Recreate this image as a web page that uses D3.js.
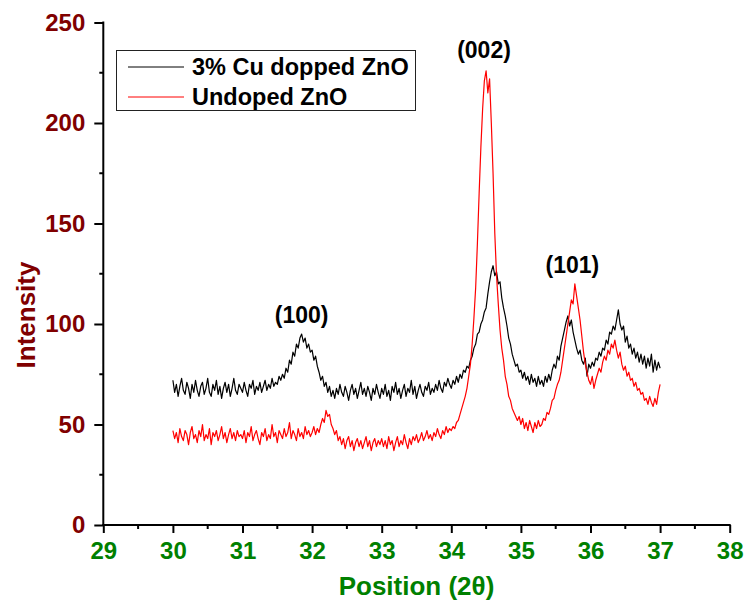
<!DOCTYPE html>
<html>
<head>
<meta charset="utf-8">
<script src="https://cdn.jsdelivr.net/npm/d3@7"></script>
<style>
  html, body { margin: 0; padding: 0; background: #fff; }
  svg text { font-family: "Liberation Sans", Arial, Helvetica, sans-serif; font-weight: bold; }
</style>
</head>
<body>
<svg id="chart" width="745" height="602"></svg>
<script>
// XRD scan: 2θ from 30° to 37° in 0.025° steps
const scanStart = 30;
const scanStep = 0.025;

// 3% Cu doped ZnO intensities
const cuDoped = [
  72, 66, 70, 64, 69, 73, 67, 65, 71, 68, 63, 70, 66, 72, 67, 64, 69, 71, 65, 68,
  73, 66, 64, 70, 67, 72, 65, 69, 63, 68, 71, 66, 70, 64, 68, 73, 67, 65, 70, 68,
  66, 71, 67, 64, 70, 68, 72, 65, 69, 67, 71, 66, 69, 72, 67, 70, 68, 73, 69, 71,
  70, 74, 72, 75, 73, 78, 76, 82, 80, 86, 84, 90, 88, 93, 95, 91, 93, 88, 90, 86,
  87, 82, 84, 79, 76, 72, 74, 69, 71, 66, 69, 64, 67, 63, 68, 65, 70, 66, 64, 69,
  66, 62, 67, 70, 65, 68, 63, 67, 71, 65, 68, 64, 69, 66, 62, 68, 65, 70, 66, 63,
  68, 65, 70, 64, 67, 62, 69, 66, 71, 65, 68, 63, 67, 70, 64, 68, 66, 72, 65, 69,
  63, 67, 70, 66, 64, 69, 67, 71, 65, 68, 66, 70, 67, 72, 68, 66, 71, 69, 73, 70,
  68, 72, 70, 74, 71, 75, 73, 77, 76, 79, 78, 82, 84, 88, 90, 95, 96, 100, 102, 106,
  108, 115, 121, 126, 129, 124, 126, 120, 121, 113, 108, 104, 99, 93, 90, 85, 82, 79, 80, 76,
  77, 73, 76, 72, 74, 70, 75, 71, 73, 69, 74, 70, 72, 69, 74, 71, 75, 72, 77, 80,
  78, 84, 82, 89, 93, 97, 101, 104, 99, 102, 96, 92, 88, 85, 87, 82, 80, 83, 74, 80,
  78, 81, 79, 83, 82, 86, 84, 88, 87, 92, 90, 96, 95, 99, 97, 102, 107, 100, 97, 99,
  91, 94, 88, 90, 85, 88, 83, 86, 81, 85, 80, 84, 78, 83, 79, 85, 76, 82, 77, 81,
  78
];

// Undoped ZnO intensities
const undoped = [
  47, 43, 46, 41, 48, 44, 42, 47, 45, 40, 46, 49, 43, 45, 41, 47, 44, 50, 42, 45,
  43, 48, 40, 46, 44, 47, 42, 45, 49, 43, 46, 41, 45, 48, 43, 46, 42, 47, 44, 45,
  43, 47, 41, 46, 44, 49, 42, 45, 47, 43, 40, 46, 44, 48, 42, 45, 43, 50, 44, 46,
  41, 47, 45, 43, 48, 44, 46, 51, 43, 47, 45, 42, 48, 44, 46, 43, 49, 45, 47, 44,
  46, 49, 45, 48, 46, 50, 53, 51, 57, 54, 55, 50, 48, 45, 47, 42, 44, 40, 43, 38,
  42, 44, 39, 42, 37, 41, 43, 39, 42, 38, 41, 44, 39, 42, 37, 41, 43, 39, 42, 40,
  43, 39, 42, 38, 44, 40, 42, 37, 41, 44, 39, 42, 40, 45, 41, 38, 43, 40, 44, 42,
  45, 41, 43, 46, 42, 44, 47, 43, 45, 42, 46, 44, 48, 45, 43, 47, 45, 49, 46, 48,
  47, 49, 48, 51, 52, 55, 58, 61, 64, 68, 74, 80, 90, 103, 118, 140, 165, 188, 207, 221,
  226, 215, 222, 200, 175, 145, 124, 110, 97, 88, 82, 74, 70, 64, 62, 58, 56, 54, 52, 54,
  50, 53, 48, 51, 47, 52, 49, 46, 51, 48, 52, 49, 50, 53, 52, 56, 55, 58, 62, 63,
  67, 70, 72, 76, 82, 88, 94, 100, 106, 112, 110, 120, 114, 108, 102, 94, 86, 80, 76, 72,
  70, 74, 68, 72, 75, 78, 76, 81, 84, 82, 87, 85, 90, 88, 92, 87, 83, 86, 80, 77,
  79, 74, 76, 72, 73, 69, 71, 67, 68, 65, 66, 62, 63, 60, 64, 61, 59, 63, 60, 66,
  70
];

const xTicks = [29, 30, 31, 32, 33, 34, 35, 36, 37, 38];
const xMinorTicks = [29.5, 30.5, 31.5, 32.5, 33.5, 34.5, 35.5, 36.5, 37.5];
const yTicks = [0, 50, 100, 150, 200, 250];
const yMinorTicks = [25, 75, 125, 175, 225];

const series = [
  { name: "3% Cu dopped ZnO", values: cuDoped, color: "#000000" },
  { name: "Undoped ZnO", values: undoped, color: "#ff0000" }
];

const peakLabels = [
  { text: "(100)", x: 31.85, y: 100.5 },
  { text: "(002)", x: 34.47, y: 232.5 },
  { text: "(101)", x: 35.74, y: 125.5 }
];

const svg = d3.select("#chart");
const xScale = d3.scaleLinear().domain([29, 38]).range([103.3, 729.7]);
const yScale = d3.scaleLinear().domain([0, 250]).range([525, 22.5]);

const axisRed = "#800000";
const axisGreen = "#008000";

// X axis
const gx = svg.append("g").attr("transform", `translate(0,${yScale(0)})`);
gx.call(d3.axisBottom(xScale).tickValues(xTicks).tickFormat(d3.format("d"))
  .tickSize(8).tickPadding(9));
gx.selectAll(".tick text").attr("fill", axisGreen).attr("font-size", 24)
  .attr("font-family", null);
gx.selectAll(".tick line").attr("stroke", "#000").attr("stroke-width", 2);
gx.selectAll(".minor").data(xMinorTicks).enter().append("line")
  .attr("class", "minor")
  .attr("x1", d => xScale(d)).attr("x2", d => xScale(d))
  .attr("y1", 0).attr("y2", 4)
  .attr("stroke", "#000").attr("stroke-width", 2);

// Y axis
const gy = svg.append("g").attr("transform", `translate(${xScale(29)},0)`);
gy.call(d3.axisLeft(yScale).tickValues(yTicks).tickFormat(d3.format("d"))
  .tickSize(9).tickPadding(9));
gy.selectAll(".tick text").attr("fill", axisRed).attr("font-size", 24)
  .attr("font-family", null);
gy.selectAll(".tick line").attr("stroke", "#000").attr("stroke-width", 2);
gy.selectAll(".minor").data(yMinorTicks).enter().append("line")
  .attr("class", "minor")
  .attr("x1", 0).attr("x2", -4)
  .attr("y1", d => yScale(d)).attr("y2", d => yScale(d))
  .attr("stroke", "#000").attr("stroke-width", 2);

// Axis lines run exactly between the end ticks
svg.selectAll(".domain").remove();
gx.append("line").attr("x1", xScale(29) - 1).attr("x2", xScale(38) + 1)
  .attr("y1", 0).attr("y2", 0).attr("stroke", "#000").attr("stroke-width", 2);
gy.append("line").attr("x1", 0).attr("x2", 0)
  .attr("y1", yScale(0)).attr("y2", yScale(250) - 1).attr("stroke", "#000").attr("stroke-width", 2);

// Axis titles
svg.append("text")
  .attr("x", xScale(33.5)).attr("y", 595)
  .attr("text-anchor", "middle")
  .attr("font-size", 26)
  .attr("fill", axisGreen)
  .text("Position (2θ)");

svg.append("text")
  .attr("transform", `translate(35,${315}) rotate(-90)`)
  .attr("text-anchor", "middle")
  .attr("font-size", 26)
  .attr("fill", axisRed)
  .text("Intensity");

// Diffraction patterns
const line = d3.line()
  .x((d, i) => xScale(scanStart + i * scanStep))
  .y(d => yScale(d));

svg.append("g").selectAll("path").data(series).enter().append("path")
  .attr("d", d => line(d.values))
  .attr("fill", "none")
  .attr("stroke", d => d.color)
  .attr("stroke-width", 1.2)
  .attr("stroke-linejoin", "round");

// Peak (hkl) labels
svg.append("g").selectAll("text").data(peakLabels).enter().append("text")
  .attr("x", d => xScale(d.x))
  .attr("y", d => yScale(d.y))
  .attr("text-anchor", "middle")
  .attr("font-size", 23)
  .attr("fill", "#000")
  .text(d => d.text);

// Legend
const legend = svg.append("g");
legend.append("rect")
  .attr("x", 116.5).attr("y", 50.5).attr("width", 299).attr("height", 60)
  .attr("fill", "#fff").attr("stroke", "#222").attr("stroke-width", 1);
const rows = legend.selectAll("g.row").data(series).enter().append("g")
  .attr("class", "row")
  .attr("transform", (d, i) => `translate(0,${67 + i * 30})`);
rows.append("line")
  .attr("x1", 128).attr("x2", 184).attr("y1", 0).attr("y2", 0)
  .attr("stroke", d => d.color).attr("stroke-width", 1);
rows.append("text")
  .attr("x", 192).attr("y", 8)
  .attr("font-size", 23.5)
  .attr("fill", "#000")
  .text(d => d.name);
</script>
</body>
</html>
